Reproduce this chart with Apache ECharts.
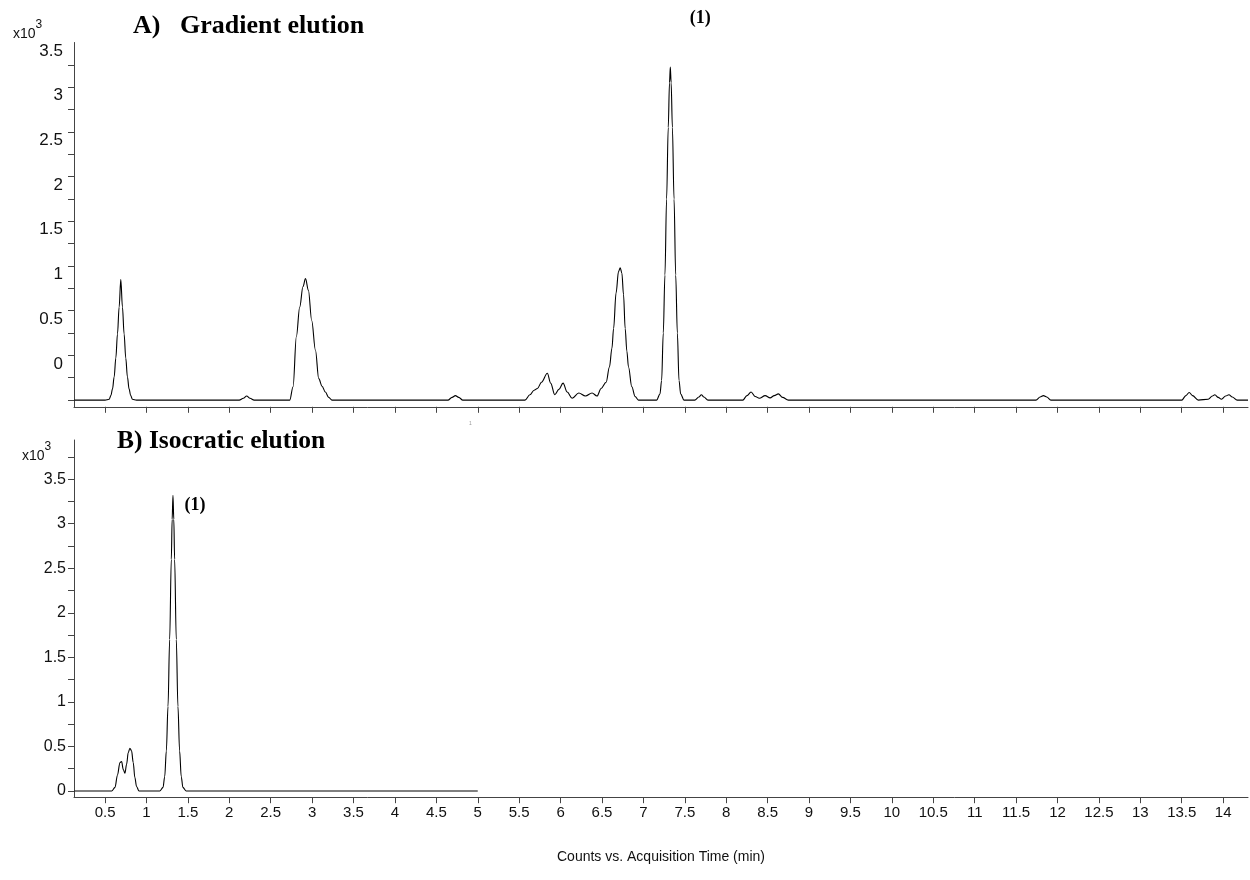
<!DOCTYPE html>
<html>
<head>
<meta charset="utf-8">
<title>Chromatograms</title>
<script src="https://cdn.jsdelivr.net/npm/echarts@6/dist/echarts.min.js"></script>
<style>
  html, body { margin: 0; padding: 0; background: #fff; }
  #chart { width: 1250px; height: 880px; }
</style>
</head>
<body>
<div id="chart"></div>
<script>
// A) gradient elution trace (time in min, counts x10^3 on the drawn axis)
const gradTime = [0.13, 0.50, 0.55, 0.57, 0.59, 0.61, 0.63, 0.65, 0.67, 0.69, 0.71, 0.73, 0.75, 0.77, 0.79, 0.81, 0.83, 0.88,
  2.12, 2.17, 2.21, 2.25, 2.30,
  2.73, 2.77, 2.81, 2.85, 2.89, 2.92, 2.955, 2.995, 3.04, 3.08, 3.12, 3.16, 3.20, 3.24,
  4.64, 4.69, 4.73, 4.77, 4.82,
  5.57, 5.63, 5.68, 5.72, 5.77, 5.84, 5.88, 5.93, 5.98, 6.03, 6.08, 6.14, 6.22, 6.30, 6.38, 6.44, 6.49, 6.55,
  6.59, 6.62, 6.64, 6.67, 6.70, 6.72, 6.74, 6.76, 6.78, 6.80, 6.82, 6.86, 6.90, 6.94,
  7.16, 7.20, 7.22, 7.24, 7.26, 7.28, 7.30, 7.315, 7.325, 7.335, 7.35, 7.37, 7.39, 7.41, 7.43, 7.45, 7.49,
  7.62, 7.67, 7.70, 7.73, 7.78,
  8.20, 8.25, 8.30, 8.35, 8.40, 8.47, 8.53, 8.58, 8.63, 8.68, 8.75,
  11.74, 11.79, 11.83, 11.87, 11.92,
  13.50, 13.55, 13.59, 13.63, 13.70, 13.82, 13.87, 13.90, 13.94, 13.98, 14.03, 14.07, 14.11, 14.17, 14.30]
const gradCounts = [-0.5, -0.5, -0.49, -0.45, -0.375, -0.24, -0.03, 0.24, 0.54, 0.85, 0.54, 0.24, -0.03, -0.24, -0.375, -0.45, -0.49, -0.5,
  -0.5, -0.48, -0.455, -0.48, -0.5,
  -0.5, -0.35, 0.21, 0.54, 0.77, 0.86, 0.73, 0.39, 0.06, -0.26, -0.345, -0.41, -0.47, -0.5,
  -0.5, -0.47, -0.45, -0.47, -0.5,
  -0.5, -0.44, -0.39, -0.37, -0.30, -0.20, -0.31, -0.44, -0.38, -0.31, -0.41, -0.48, -0.42, -0.455, -0.42, -0.455, -0.37, -0.30,
  -0.13, 0.08, 0.30, 0.70, 0.94, 0.98, 0.92, 0.68, 0.30, 0.05, -0.13, -0.35, -0.46, -0.5,
  -0.5, -0.43, -0.28, 0.25, 0.90, 1.75, 2.55, 3.05, 3.225, 3.05, 2.55, 1.75, 0.90, 0.25, -0.28, -0.43, -0.5,
  -0.5, -0.465, -0.44, -0.465, -0.5,
  -0.5, -0.45, -0.41, -0.46, -0.48, -0.45, -0.475, -0.45, -0.43, -0.47, -0.5,
  -0.5, -0.465, -0.45, -0.465, -0.5,
  -0.5, -0.45, -0.415, -0.45, -0.5, -0.49, -0.455, -0.44, -0.47, -0.49, -0.455, -0.44, -0.465, -0.5, -0.5]

// B) isocratic elution trace
const isoTime = [0.13, 0.58, 0.62, 0.65, 0.68, 0.70, 0.72, 0.74, 0.76, 0.78, 0.80, 0.82, 0.84, 0.86, 0.88, 0.91,
  1.16, 1.20, 1.22, 1.24, 1.26, 1.28, 1.30, 1.31, 1.32, 1.33, 1.34, 1.36, 1.38, 1.40, 1.42, 1.44, 1.48, 5.00]
const isoCounts = [0, 0, 0.04, 0.18, 0.32, 0.33, 0.24, 0.20, 0.30, 0.43, 0.48, 0.45, 0.32, 0.15, 0.05, 0,
  0, 0.04, 0.16, 0.45, 0.95, 1.70, 2.60, 3.05, 3.32, 3.05, 2.60, 1.70, 0.95, 0.45, 0.16, 0.04, 0, 0]

// peak (1) apex in each panel
const peakA = [7.325, 3.225]
const peakB = [1.32, 3.32]

// tick values
const timeTicks = [0.5, 1, 1.5, 2, 2.5, 3, 3.5, 4, 4.5, 5, 5.5, 6, 6.5, 7, 7.5, 8, 8.5, 9, 9.5, 10,
  10.5, 11, 11.5, 12, 12.5, 13, 13.5, 14]
const countLabels = [0, 0.5, 1, 1.5, 2, 2.5, 3, 3.5]
const gradCountTicks = [-0.5, -0.25, 0, 0.25, 0.5, 0.75, 1, 1.25, 1.5, 1.75, 2, 2.25, 2.5, 2.75, 3, 3.25]
const isoCountTicks = [0, 0.25, 0.5, 0.75, 1, 1.25, 1.5, 1.75, 2, 2.25, 2.5, 2.75, 3, 3.25, 3.5, 3.75]

const sans = 'Liberation Sans, Arial, sans-serif'
const serif = 'Liberation Serif, Times New Roman, serif'
const axisColor = '#444'

const zip = (xs, ys) => xs.map((x, i) => [x, ys[i]])

function timeAxis (gridIndex, showLabels) {
  return {
    type: 'value',
    gridIndex: gridIndex,
    min: 0.125,
    max: 14.3,
    splitLine: { show: false },
    axisLine: { onZero: false, lineStyle: { color: axisColor, width: 1 } },
    axisTick: { show: true, customValues: timeTicks, length: 6, lineStyle: { color: axisColor } },
    axisLabel: {
      show: showLabels,
      customValues: timeTicks,
      fontFamily: sans,
      fontSize: 15,
      color: '#111',
      margin: 8
    },
    name: showLabels ? 'Counts vs. Acquisition Time (min)' : '',
    nameLocation: 'middle',
    nameGap: 53,
    nameTextStyle: { fontFamily: sans, fontSize: 14, color: '#111' }
  }
}

function countAxis (gridIndex, min, max, ticks, align, size) {
  return {
    type: 'value',
    gridIndex: gridIndex,
    min: min,
    max: max,
    splitLine: { show: false },
    axisLine: { show: true, onZero: false, lineStyle: { color: axisColor, width: 1 } },
    axisTick: { show: true, customValues: ticks, length: 6, lineStyle: { color: axisColor } },
    axisLabel: {
      customValues: countLabels,
      fontFamily: sans,
      fontSize: size,
      color: '#111',
      margin: align === 'top' ? 11 : 8,
      verticalAlign: align
    }
  }
}

function peakLabel (coord, offset) {
  return {
    symbol: 'circle',
    symbolSize: 1,
    silent: true,
    itemStyle: { color: 'rgba(0,0,0,0)' },
    label: {
      show: true,
      position: 'inside',
      formatter: '(1)',
      fontFamily: serif,
      fontWeight: 'bold',
      fontSize: 18,
      color: '#000',
      offset: offset
    },
    data: [{ coord: coord }]
  }
}

const superscript = {
  a: { fontFamily: sans, fontSize: 14, fill: '#111', padding: [8, 0, 0, 0] },
  b: { fontFamily: sans, fontSize: 12, fill: '#111', verticalAlign: 'top' }
}

const chart = echarts.init(document.getElementById('chart'))

chart.setOption({
  animation: false,
  backgroundColor: '#fff',
  grid: [
    { left: 74, right: 2, top: 42.5, height: 364.3 },
    { left: 74, right: 2, top: 440, height: 357.2 }
  ],
  xAxis: [timeAxis(0, false), timeAxis(1, true)],
  yAxis: [
    countAxis(0, -0.575, 3.5, gradCountTicks, 'top', 17),
    countAxis(1, -0.07, 3.94, isoCountTicks, 'middle', 16)
  ],
  graphic: [
    { type: 'text', left: 13, top: 19, style: { text: '{a|x10}{b|3}', rich: superscript } },
    { type: 'text', left: 22, top: 441, style: { text: '{a|x10}{b|3}', rich: superscript } },
    {
      type: 'text', left: 133, top: 13,
      style: { text: 'A)   Gradient elution', fontFamily: serif, fontWeight: 'bold', fontSize: 26, fill: '#000' }
    },
    {
      type: 'text', left: 117, top: 428,
      style: { text: 'B) Isocratic elution', fontFamily: serif, fontWeight: 'bold', fontSize: 25.5, fill: '#000' }
    },
    {
      type: 'text', left: 469, top: 421,
      style: { text: '1', fontFamily: sans, fontSize: 5, fill: '#999' }
    }
  ],
  series: [
    {
      type: 'line',
      xAxisIndex: 0,
      yAxisIndex: 0,
      data: zip(gradTime, gradCounts),
      showSymbol: false,
      symbol: 'none',
      smooth: 0.35,
      smoothMonotone: 'x',
      lineStyle: { color: '#000', width: 1.1 },
      markPoint: peakLabel(peakA, [30, -49])
    },
    {
      type: 'line',
      xAxisIndex: 1,
      yAxisIndex: 1,
      data: zip(isoTime, isoCounts),
      showSymbol: false,
      symbol: 'none',
      smooth: 0.35,
      smoothMonotone: 'x',
      lineStyle: { color: '#000', width: 1.1 },
      markPoint: peakLabel(peakB, [22, 10])
    }
  ]
})

window.addEventListener('resize', () => chart.resize())
</script>
</body>
</html>
